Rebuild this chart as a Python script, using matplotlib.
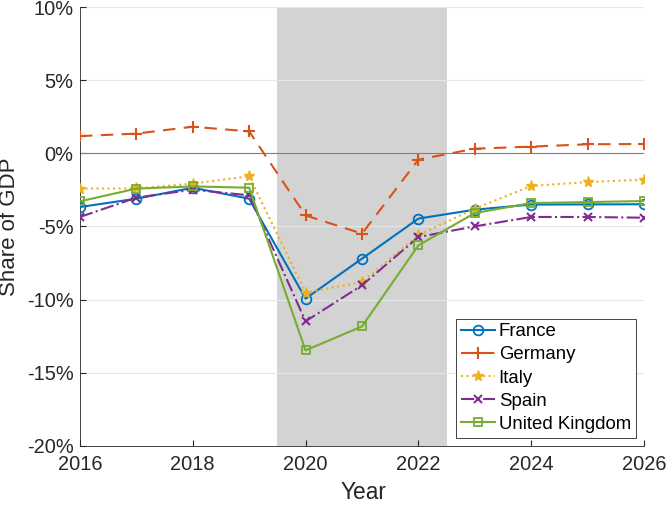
import numpy as np
import matplotlib.pyplot as plt
from matplotlib.ticker import FuncFormatter

plt.rcParams['font.family'] = ['Liberation Sans', 'DejaVu Sans']

years = np.arange(2016, 2027)
france = [-3.67, -3.1, -2.35, -3.1, -9.93, -7.2, -4.46, -3.85, -3.5, -3.49, -3.48]
germany = [1.18, 1.35, 1.82, 1.5, -4.24, -5.49, -0.43, 0.32, 0.46, 0.62, 0.64]
italy = [-2.41, -2.4, -2.07, -1.57, -9.52, -8.8, -5.6, -3.78, -2.23, -1.96, -1.8]
spain = [-4.35, -3.03, -2.48, -2.87, -11.48, -9.02, -5.72, -4.99, -4.35, -4.35, -4.4]
uk = [-3.28, -2.41, -2.26, -2.35, -13.47, -11.83, -6.29, -4.08, -3.4, -3.33, -3.26]
shade_start, shade_end = 2019.5, 2022.5

fig = plt.figure(figsize=(6.66, 5.05), dpi=100)
ax = fig.add_axes([0.12, 0.117, 0.847, 0.869])

ax.grid(True, axis='y', color='#e6e6e6', linewidth=0.8, zorder=0)
ax.axvspan(shade_start, shade_end, color='#d3d3d3', linewidth=0, zorder=1)
ax.axhline(0, color='#808080', linewidth=0.8, zorder=2)

ax.plot(years, france, '-o', color=(0, 0.447, 0.741), mfc='none', ms=7, mew=1.3, lw=1.5,
        label='France', zorder=3)
ax.plot(years, germany, '--+', color=(0.85, 0.325, 0.098), ms=9, mew=1.5, lw=1.5,
        dashes=(6, 4), label='Germany', zorder=3)
ax.plot(years, italy, ':*', color=(0.929, 0.694, 0.125), ms=8, lw=1.5,
        label='Italy', zorder=3)
ax.plot(years, spain, '-.x', color=(0.494, 0.184, 0.556), ms=6, mew=1.5, lw=1.5,
        label='Spain', zorder=3)
ax.plot(years, uk, '-s', color=(0.466, 0.674, 0.188), mfc='none', ms=6, mew=1.3, lw=1.5,
        label='United Kingdom', zorder=3)

ax.set_xlim(2016, 2026)
ax.set_ylim(-20, 10)
ax.set_xticks(np.arange(2016, 2027, 2))
ax.set_yticks(np.arange(-20, 11, 5))
ax.yaxis.set_major_formatter(FuncFormatter(lambda v, p: '%d%%' % v))
ax.tick_params(direction='in', labelsize=14.4, colors='#262626', length=4)
ax.tick_params(axis='x', pad=6.5)
ax.tick_params(axis='y', pad=4.5)
ax.spines['top'].set_visible(False)
ax.spines['right'].set_visible(False)
for s in ['left', 'bottom']:
    ax.spines[s].set_color('#262626')
    ax.spines[s].set_linewidth(0.6)

ax.set_xlabel('Year', fontsize=16.4, color='#262626')
ax.set_ylabel('Share of GDP', fontsize=16, color='#262626')
ax.xaxis.set_label_coords(0.502, -0.081)
ax.yaxis.set_label_coords(-0.106, 0.5)

leg = ax.legend(loc='lower right', fontsize=13.4, fancybox=False, edgecolor='#262626',
                framealpha=1, handlelength=1.85, handletextpad=0.2, borderpad=0.25,
                labelspacing=0.33, borderaxespad=0.45)
leg.get_frame().set_linewidth(0.6)

fig.savefig('out.png', dpi=100)
